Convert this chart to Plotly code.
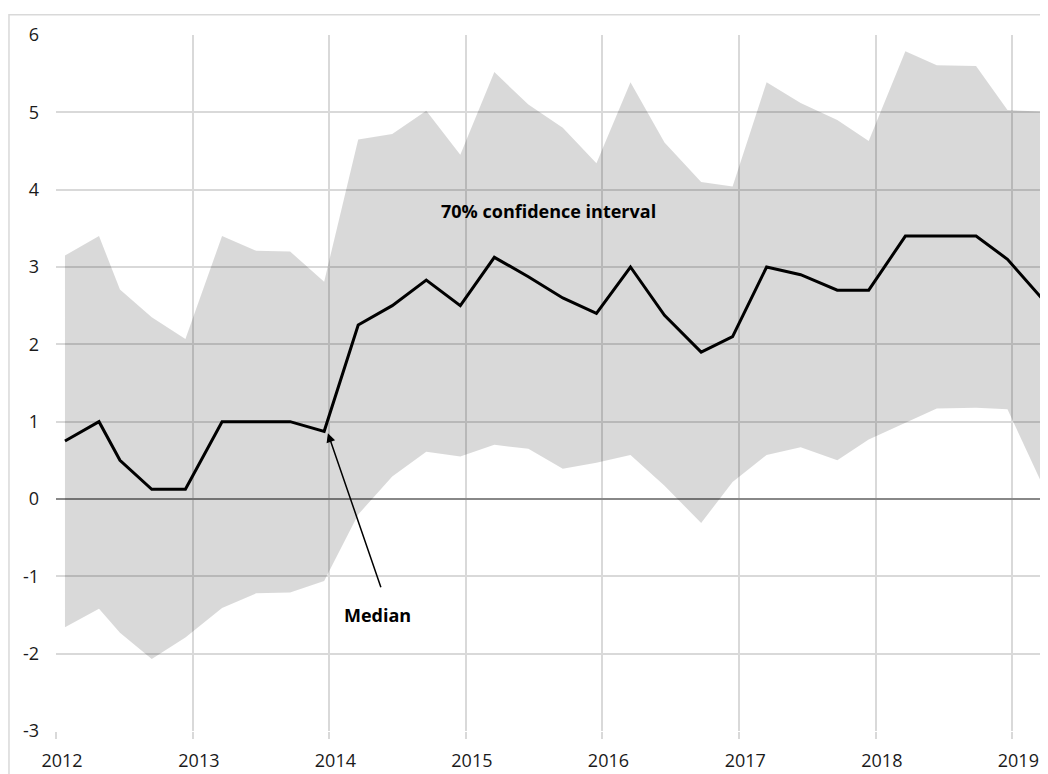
import plotly.graph_objects as go

dates = ['2012-01-25', '2012-04-25', '2012-06-20', '2012-09-13', '2012-12-12',
         '2013-03-20', '2013-06-19', '2013-09-18', '2013-12-18',
         '2014-03-19', '2014-06-18', '2014-09-17', '2014-12-17',
         '2015-03-18', '2015-06-17', '2015-09-17', '2015-12-16',
         '2016-03-16', '2016-06-15', '2016-09-21', '2016-12-14',
         '2017-03-15', '2017-06-14', '2017-09-20', '2017-12-13',
         '2018-03-21', '2018-06-13', '2018-09-26', '2018-12-19',
         '2019-03-20']
median = [0.75, 1.0, 0.5, 0.125, 0.125,
          1.0, 1.0, 1.0, 0.875,
          2.25, 2.5, 2.83, 2.5,
          3.125, 2.875, 2.6, 2.4,
          3.0, 2.375, 1.9, 2.1,
          3.0, 2.9, 2.7, 2.7,
          3.4, 3.4, 3.4, 3.1,
          2.6]
upper = [3.15, 3.40, 2.71, 2.35, 2.07,
         3.40, 3.21, 3.20, 2.81,
         4.65, 4.72, 5.02, 4.45,
         5.52, 5.10, 4.80, 4.34,
         5.39, 4.61, 4.10, 4.04,
         5.39, 5.12, 4.90, 4.63,
         5.79, 5.61, 5.60, 5.03,
         5.01]
lower = [-1.66, -1.42, -1.73, -2.07, -1.79,
         -1.41, -1.22, -1.21, -1.06,
         -0.2, 0.29, 0.61, 0.55,
         0.70, 0.65, 0.39, 0.47,
         0.57, 0.17, -0.31, 0.22,
         0.57, 0.67, 0.50, 0.77,
         0.98, 1.17, 1.18, 1.16,
         0.21]

y_ticks = [-3, -2, -1, 0, 1, 2, 3, 4, 5, 6]
y_tick_labels = ['-3', '-2', '-1', '0', '1', '2', '3', '4', '5', '6']

font_name = 'Open Sans'

fig = go.Figure()
fig.add_trace(go.Scatter(
    x=dates,
    y=lower,
    mode='lines',
    line=dict(width=0),
    hoverinfo='skip',
    showlegend=False,
))
fig.add_trace(go.Scatter(
    x=dates,
    y=upper,
    mode='lines',
    line=dict(width=0),
    fill='tonexty',
    fillcolor='rgba(0,0,0,0.15)',
    name='70% confidence interval',
    showlegend=False,
))
fig.add_trace(go.Scatter(
    x=dates,
    y=median,
    mode='lines',
    line=dict(color='black', width=3),
    name='Median',
    showlegend=False,
))

# arrow pointing at the median line
fig.add_annotation(
    x='2013-12-28', y=0.85, xref='x', yref='y',
    ax='2014-05-20', ay=-1.16, axref='x', ayref='y',
    text='', showarrow=True,
    arrowhead=2, arrowsize=1.2, arrowwidth=1.5, arrowcolor='black',
)
fig.add_annotation(
    x='2014-05-10', y=-1.5, xref='x', yref='y',
    text='<b>Median</b>', showarrow=False,
    font=dict(family=font_name, size=18, color='black'),
)
fig.add_annotation(
    x='2015-08-10', y=3.73, xref='x', yref='y',
    text='<b>70% confidence interval</b>', showarrow=False,
    font=dict(family=font_name, size=18, color='black'),
)

# outer chart border
fig.add_shape(
    type='rect', xref='paper', yref='paper',
    x0=-0.0475, x1=1.1, y0=-0.2, y1=1.029,
    line=dict(color='#d9d9d9', width=1.5),
    fillcolor='rgba(0,0,0,0)',
)

fig.update_layout(
    width=1040,
    height=766,
    margin=dict(l=48, r=2, t=27, b=43),
    plot_bgcolor='white',
    paper_bgcolor='white',
    font=dict(family=font_name, size=18, color='#1a1a1a'),
    showlegend=False,
)
fig.update_xaxes(
    type='date',
    range=['2012-01-01', '2019-04-01'],
    dtick='M12',
    tick0='2012-01-01',
    tickformat='%Y',
    showgrid=True,
    gridcolor='#d9d9d9',
    gridwidth=1.5,
    ticks='outside',
    ticklen=7,
    tickcolor='#d9d9d9',
    tickwidth=1.5,
    ticklabelshift=6,
    ticklabelstandoff=6,
    showline=False,
    zeroline=False,
)
fig.update_yaxes(
    range=[-3, 6],
    tickvals=y_ticks,
    ticktext=y_tick_labels,
    showgrid=True,
    gridcolor='#d9d9d9',
    gridwidth=1.5,
    zeroline=True,
    zerolinecolor='#888888',
    zerolinewidth=1.5,
    ticklabelstandoff=16,
    showline=False,
)

fig.write_html("out.html")
